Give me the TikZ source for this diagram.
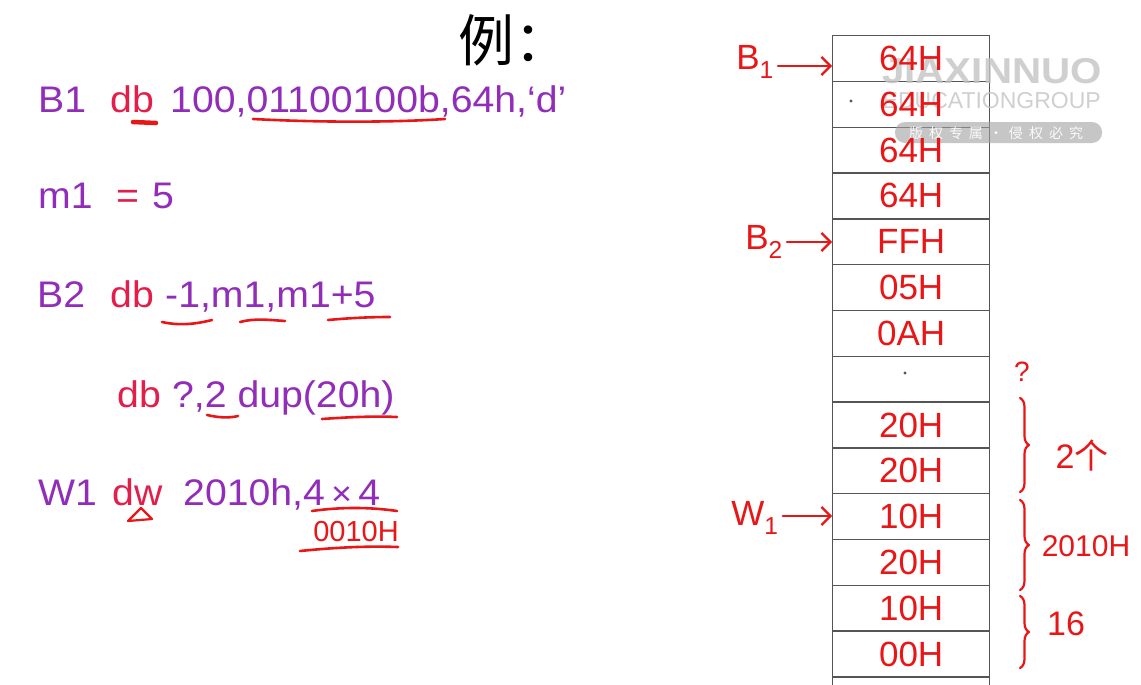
\documentclass[tikz,border=0pt]{standalone}
\usepackage{fontspec}
\setmainfont{Liberation Sans}
\newfontfamily\cjk{Noto Sans CJK SC}
\newfontfamily\codefont[FakeStretch=1.06]{Liberation Sans}
\newfontfamily\wmfont[FakeStretch=1.12]{Liberation Sans}
\usetikzlibrary{decorations.pathreplacing,arrows.meta}
\definecolor{codepurple}{RGB}{145,45,185}
\definecolor{codered}{RGB}{226,30,75}
\definecolor{inkred}{RGB}{232,22,22}
\definecolor{gridgray}{RGB}{85,85,85}
\definecolor{wmgray}{RGB}{196,196,196}
\definecolor{pillgray}{RGB}{160,160,160}
\begin{document}
\begin{tikzpicture}[x=1pt,y=-1pt,
  codetxt/.style={anchor=base west, inner sep=0pt, font=\codefont\fontsize{37}{40}\selectfont},
  kwtxt/.style={codetxt, text=codered},
  pvtxt/.style={codetxt, text=codepurple},
  memcell/.style={draw=gridgray, line width=1.3pt, minimum width=157pt, minimum height=45.8pt, inner sep=0pt, anchor=north west},
  handtxt/.style={text=inkred, font=\fontsize{35}{37}\selectfont, inner sep=0pt},
  inkline/.style={draw=inkred, line width=2.6pt, line cap=round, line join=round},
  bracemark/.style={inkline, line width=2.2pt, decorate, decoration={brace, amplitude=9pt}},
  ptrarrow/.style={inkline, line width=2.2pt, -{Straight Barb[length=9pt,width=18pt]}},
]
\useasboundingbox (0,0) rectangle (1141,685);
\clip (0,0) rectangle (1141,685);
\fill[white] (0,0) rectangle (1141,685);

% title
\node[anchor=west, inner sep=0pt, font=\cjk\fontsize{56}{56}\selectfont] (title) at (458,40) {例：};

% code lines
\node[pvtxt] (l1a) at (38,112) {B1};
\node[kwtxt] (l1b) at (110,112) {db};
\begin{scope}
  \clip (0,60) rectangle (576,140);
  \node[pvtxt] (l1c) at (170,112) {100,01100100b,64h,‘d’};
\end{scope}

\node[pvtxt] (l2a) at (38,208) {m1};
\node[kwtxt] (l2b) at (116,208) {=};
\node[pvtxt] (l2c) at (152,208) {5};

\node[pvtxt] (l3a) at (37,307) {B2};
\node[kwtxt] (l3b) at (110,307) {db};
\node[pvtxt] (l3c) at (165,307) {-1,m1,m1+5};

\node[kwtxt] (l4a) at (117,407) {db};
\node[pvtxt] (l4b) at (l4a.base east) {\ ?,2 dup(20h)};

\node[pvtxt] (l5a) at (38,505) {W1};
\node[kwtxt] (l5b) at (112,505) {dw};
\node[pvtxt] (l5c) at (183,505) {2010h,4\,{\fontsize{34}{36}\selectfont ×}\,4};

% red marks on the code
\draw[inkline, line width=4.5pt] (133,122) -- (156,123);
\draw[inkline] (253,119) .. controls (330,123) and (400,122) .. (445,119);
\draw[inkline] (162,322) .. controls (180,326) and (196,324) .. (212,320);
\draw[inkline] (240,322) .. controls (255,318) and (270,320) .. (285,321);
\draw[inkline] (328,320) .. controls (350,318) and (370,317) .. (390,317);
\draw[inkline] (207,415) .. controls (220,418) and (230,418) .. (238,416);
\draw[inkline] (322,419) .. controls (350,417) and (375,416) .. (397,417);
\draw[inkline, line width=2.2pt] (128,521) -- (141,508) -- (152,519) -- cycle;
\draw[inkline] (312,511) .. controls (340,507) and (370,507) .. (397,511);
\node[handtxt, font=\fontsize{29}{31}\selectfont] (hex) at (356,532) {0010H};
\draw[inkline] (300,551) .. controls (340,547) and (370,546) .. (398,547);

% memory table
\foreach \i in {1,...,15} {
  \node[memcell] (c\i) at (832,{35+45.8*(\i-1)}) {};
}

% watermark
\node[anchor=base east, inner sep=0pt, text=wmgray, opacity=0.8,
      font=\wmfont\bfseries\fontsize{36}{36}\selectfont] (wm1) at (1102,84) {JIAXINNUO};
\node[anchor=base east, inner sep=0pt, text=wmgray, opacity=0.8,
      font=\fontsize{23}{23}\selectfont] (wm2) at (1101,108) {EDUCATIONGROUP};
\fill[pillgray, opacity=0.6, rounded corners=10pt] (895,122) rectangle (1102,143);
\node[inner sep=0pt, text=white, opacity=0.9, font=\cjk\fontsize{14}{14}\selectfont] (wm3) at (996,133)
  {版\hspace{6pt}权\hspace{6pt}专\hspace{6pt}属\hspace{6pt}·\hspace{6pt}侵\hspace{6pt}权\hspace{6pt}必\hspace{6pt}究};

% handwritten contents
\foreach \i/\v in {1/64H,2/64H,3/64H,4/64H,5/FFH,6/05H,7/0AH,9/20H,10/20H,11/10H,12/20H,13/10H,14/00H} {
  \node[handtxt] (v\i) at (c\i.center) {\v};
}
\fill[gridgray] (851,101) circle (1.6);
\fill[gridgray] (905,373) circle (1.6);

% pointers
\node[handtxt] (lb1) at (755,62) {B\textsubscript{1}};
\draw[ptrarrow] (lb1.east) ++(4,4) coordinate (pb1) -- (pb1 -| c1.west);
\node[handtxt] (lb2) at (764,242) {B\textsubscript{2}};
\draw[ptrarrow] (lb2.east) ++(4,0) coordinate (pb2) -- (pb2 -| c5.west);
\node[handtxt] (lw1) at (755,518) {W\textsubscript{1}};
\draw[ptrarrow] (lw1.east) ++(4,-2) coordinate (pw1) -- (pw1 -| c11.west);

% right annotations
\node[handtxt, font=\fontsize{28}{30}\selectfont] (q) at (1022,372) {?};
\coordinate (br1t) at (1020,398);
\coordinate (br1b) at (1020,492);
\draw[bracemark] (br1t) -- (br1b);
\node[handtxt, font=\fontsize{34}{36}\selectfont] (n1) at (1082,456) {2{\cjk 个}};
\coordinate (br2t) at (1020,500);
\coordinate (br2b) at (1020,590);
\draw[bracemark] (br2t) -- (br2b);
\node[handtxt, font=\fontsize{30}{32}\selectfont] (n2) at (1086,546) {2010H};
\coordinate (br3t) at (1020,596);
\coordinate (br3b) at (1020,668);
\draw[bracemark] (br3t) -- (br3b);
\node[handtxt, font=\fontsize{34}{36}\selectfont] (n3) at (1066,624) {16};
\end{tikzpicture}
\end{document}
